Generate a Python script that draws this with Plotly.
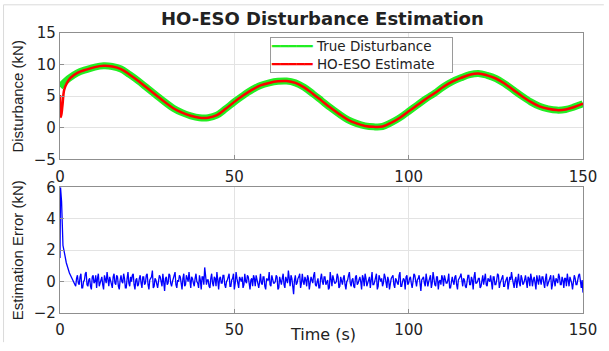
import numpy as np
import plotly.graph_objects as go

# ---------------- data ----------------
# True disturbance, sampled every 2.5 s from t=0 to t=150 (kN)
true_step = 2.5
true_vals = [6.5, 7.8, 8.7, 9.2, 9.6, 9.8, 9.7, 9.3, 8.4, 7.4,
             6.3, 5.2, 4.1, 3.1, 2.4, 1.9, 1.6, 1.6, 2.0, 3.0,
             4.1, 5.1, 6.0, 6.7, 7.1, 7.35, 7.4, 7.1, 6.4, 5.4,
             4.3, 3.2, 2.2, 1.3, 0.7, 0.3, 0.15, 0.2, 0.8, 1.6,
             2.6, 3.6, 4.6, 5.5, 6.5, 7.3, 7.9, 8.4, 8.6, 8.3,
             7.8, 7.0, 6.0, 5.0, 4.1, 3.4, 3.0, 2.8, 2.9, 3.3,
             3.8]

# HO-ESO estimate: initial transient, afterwards it follows the true disturbance
est_start_t = [0.0, 0.3, 0.7, 1.2, 2.0, 3.0]
est_start_v = [5.2, 1.7, 3.5, 6.0, 7.1, 7.9]
est_follow_from = 5.0

# Estimation error: initial transient
err_start_t = [0.0, 0.15, 0.45, 0.65, 0.85, 1.3, 1.8, 2.7, 3.6]
err_start_v = [1.5, 6.0, 5.1, 4.1, 2.3, 1.8, 1.2, 0.55, 0.1]
# Estimation error after convergence (kN): samples at t = 4.5, 5.0, 5.5, ...
err_noise_t0 = 4.5
err_noise_step = 0.5
err_noise = [
    -0.3, 0.4, -0.2, 0.5, -0.4, 0.1, 0.6, -0.3, 0.2, -0.5, 0.4, 0.0, -0.4, 0.5, -0.1, 0.3, -0.5, 0.2, 0.6, -0.3,
    0.1, -0.4, 0.5, -0.2, 0.3, -0.5, 0.4, -0.1, 0.2, -0.4, 0.6, -0.3, 0.0, 0.5, -0.5, 0.2, -0.2, 0.4, -0.4, 0.3,
    -0.1, 0.5, -0.5, 0.2, 0.7, -0.3, 0.1, -0.4, 0.4, -0.2, 0.5, -0.6, 0.3, -0.1, 0.4, -0.3, 0.2, 0.6, -0.4, 0.0,
    0.3, -0.5, 0.5, -0.2, 0.1, 0.6, -0.4, 0.2, -0.3, 0.5, -0.1, 0.4, -0.5, 0.3, 0.9, -0.2, 0.1, -0.4, 0.5, -0.3,
    0.2, 0.6, -0.5, 0.3, -0.1, 0.4, -0.4, 0.1, 0.5, -0.3, 0.2, -0.5, 0.6, -0.2, 0.3, 0.0, -0.4, 0.5, -0.1, 0.3,
    -0.5, 0.2, 0.4, -0.3, 0.1, -0.4, 0.5, -0.2, 0.3, -0.5, 0.1, 0.6, -0.3, 0.2, -0.1, 0.4, -0.5, 0.3, -0.2, 0.5,
    -0.4, 0.1, 0.7, -0.3, 0.2, -0.8, 0.4, -0.1, 0.3, -0.4, 0.5, -0.2, 0.1, 0.4, -0.5, 0.3, -0.1, 0.6, -0.3, 0.2,
    -0.4, 0.5, -0.2, 0.3, 0.0, -0.5, 0.6, -0.3, 0.2, -0.1, 0.5, -0.4, 0.3, -0.2, 0.4, -0.5, 0.1, 0.6, -0.3, 0.2,
    -0.4, 0.4, -0.1, 0.3, -0.5, 0.2, 0.5, -0.3, 0.1, -0.4, 0.6, -0.2, 0.3, -0.5, 0.4, 0.0, -0.3, 0.5, -0.2, 0.3,
    -0.5, 0.2, 0.4, -0.4, 0.1, -0.2, 0.6, -0.3, 0.2, -0.5, 0.4, -0.1, 0.3, -0.4, 0.5, -0.2, 0.1, 0.4, -0.6, 0.2,
    -0.1, 0.5, -0.3, 0.2, -0.4, 0.6, -0.2, 0.3, -0.5, 0.1, 0.4, -0.3, 0.2, -0.1, 0.5, -0.4, 0.3, -0.2, 0.4, -0.5,
    0.2, 0.5, -0.3, 0.1, -0.4, 0.4, -0.2, 0.3, -0.5, 0.6, -0.1, 0.2, -0.4, 0.3, -0.2, 0.5, -0.3, 0.1, 0.4, -0.5,
    0.3, -0.2, 0.5, -0.4, 0.1, 0.4, -0.3, 0.2, -0.5, 0.3, 0.6, -0.2, 0.1, -0.4, 0.5, -0.3, 0.2, -0.1, 0.4, -0.4,
    0.2, 0.5, -0.3, 0.3, -0.5, 0.1, 0.4, -0.2, 0.3, -0.4, 0.5, -0.1, 0.2, -0.5, 0.4, -0.3, 0.1, 0.5, -0.2, 0.3,
    -0.4, 0.2, 0.5, -0.3, 0.1, -0.5, 0.4, -0.2, 0.3, 0.5, -0.4, -0.7,
]
# in-between samples at t = 4.75, 5.25, 5.75, ... (kN)
err_noise_mid = [
    0.2, -0.1, 0.3, -0.4, 0.0, 0.5, -0.2, 0.1, -0.3, 0.3, -0.1, 0.4, 0.2, -0.3, 0.1, -0.2, 0.4, -0.1, 0.0, 0.3,
    -0.2, 0.3, -0.1, 0.4, -0.3, 0.1, 0.0, 0.5, -0.4, 0.2, -0.1, 0.3, 0.4, -0.2, 0.1, -0.3, 0.2, -0.1, 0.3, -0.2,
    0.4, -0.2, 0.1, 0.3, -0.4, 0.2, -0.1, 0.0, 0.3, -0.3, 0.1, 0.2, -0.2, 0.5, -0.1, 0.0, 0.3, -0.2, 0.1, 0.4,
    -0.1, 0.2, -0.3, 0.4, 0.0, -0.2, 0.3, -0.1, 0.2, 0.0, -0.4, 0.1, 0.3, -0.2, 0.4, 0.1, -0.3, 0.2, -0.1, 0.3,
    -0.3, 0.1, 0.2, -0.1, 0.4, -0.2, 0.0, 0.3, -0.3, 0.1, 0.5, -0.1, 0.2, -0.4, 0.1, 0.3, -0.2, 0.0, 0.4, -0.1,
    0.1, -0.3, 0.2, 0.4, -0.2, 0.0, -0.1, 0.3, -0.3, 0.2, 0.1, -0.2, 0.4, -0.1, 0.0, 0.3, -0.4, 0.1, 0.2, -0.2,
    0.3, -0.1, 0.0, 0.4, -0.3, 0.1, -0.2, 0.2, 0.5, -0.1, 0.0, 0.3, -0.3, 0.2, -0.1, 0.1, 0.4, -0.2, 0.0, -0.4,
    0.2, 0.0, 0.3, -0.2, 0.1, -0.4, 0.2, 0.4, -0.1, 0.0, 0.3, -0.3, 0.1, 0.2, -0.2, 0.0, 0.4, -0.1, 0.1, -0.3,
    0.3, -0.2, 0.1, 0.0, 0.4, -0.3, 0.2, -0.1, 0.3, 0.1, -0.2, 0.0, 0.5, -0.3, 0.1, 0.2, -0.1, 0.3, -0.4, 0.1,
    0.0, 0.3, -0.2, 0.2, -0.1, 0.4, -0.3, 0.0, 0.1, 0.3, -0.2, 0.2, -0.1, 0.0, 0.4, -0.3, 0.2, -0.1, 0.1, 0.3,
    -0.3, 0.2, 0.0, 0.4, -0.1, 0.1, -0.3, 0.3, 0.0, -0.2, 0.2, 0.4, -0.1, 0.1, -0.4, 0.2, 0.0, 0.3, -0.2, 0.1,
    0.3, -0.1, 0.2, -0.3, 0.0, 0.4, -0.2, 0.1, 0.3, -0.1, 0.0, 0.2, -0.3, 0.4, 0.1, -0.2, 0.2, 0.0, -0.1, 0.3,
    -0.2, 0.1, 0.4, -0.1, 0.2, -0.3, 0.0, 0.3, -0.2, 0.1, 0.2, -0.4, 0.3, 0.0, -0.1, 0.4, -0.2, 0.1, 0.0, 0.3,
    -0.3, 0.2, 0.1, -0.1, 0.4, -0.2, 0.0, 0.3, -0.1, 0.2, -0.3, 0.1, 0.4, -0.2, 0.0, 0.2, -0.1, 0.3, -0.2, 0.1,
    0.2, -0.3, 0.1, 0.3, -0.1, 0.0, 0.2, -0.2, 0.4, -0.1, 0.1, -0.3,
]

legend_names = ["True Disturbance", "HO-ESO Estimate"]
x_ticks = [0, 50, 100, 150]
top_y_ticks = [-5, 0, 5, 10, 15]
bot_y_ticks = [-2, 0, 2, 4, 6]

# ---------------- build series ----------------
true_t = np.arange(len(true_vals)) * true_step
true_v = np.array(true_vals)
mask = true_t >= est_follow_from
est_t = np.concatenate([est_start_t, true_t[mask]])
est_v = np.concatenate([est_start_v, true_v[mask]])

n = min(len(err_noise), len(err_noise_mid))
base_t = err_noise_t0 + err_noise_step * np.arange(n)
noise_t = np.empty(2 * n)
noise_v = np.empty(2 * n)
noise_t[0::2] = base_t
noise_t[1::2] = base_t + err_noise_step / 2
noise_v[0::2] = err_noise[:n]
noise_v[1::2] = err_noise_mid[:n]
err_t = np.concatenate([err_start_t, noise_t])
err_v = np.concatenate([err_start_v, noise_v])

# ---------------- layout geometry ----------------
W, H = 609, 351
ML, MR, MT, MB = 60, 21, 33, 30
PW, PH = W - ML - MR, H - MT - MB
def px(x):
    return (x - ML) / PW
def py(y):
    return (H - MB - y) / PH

top_dom = [py(163), 1.0]
bot_dom = [0.0, py(191.7)]

TXT = "#222222"
TICKFONT = dict(family="DejaVu Sans", size=15, color=TXT)
GRID = "#e3e3e3"
AX = "#8f8f8f"
GREEN, RED, BLUE = "#22ee22", "#ff0000", "#0000ff"

fig = go.Figure()
fig.add_trace(go.Scatter(x=true_t, y=true_v, mode="lines", name=legend_names[0],
                         line=dict(color=GREEN, width=7, shape="spline"),
                         showlegend=False, xaxis="x", yaxis="y"))
fig.add_trace(go.Scatter(x=est_t, y=est_v, mode="lines", name=legend_names[1],
                         line=dict(color=RED, width=2.5, shape="spline"),
                         showlegend=False, xaxis="x", yaxis="y"))
fig.add_trace(go.Scatter(x=err_t, y=err_v, mode="lines", name="Estimation Error",
                         line=dict(color=BLUE, width=1.3),
                         showlegend=False, xaxis="x2", yaxis="y2"))

axis_common = dict(showline=True, linecolor=AX, linewidth=1.3, mirror=True, showgrid=True, gridcolor=GRID,
                   gridwidth=1, zeroline=False, ticks="inside", ticklen=4, tickcolor=AX, tickfont=TICKFONT)

fig.update_layout(
    width=W, height=H,
    margin=dict(l=ML, r=MR, t=MT, b=MB),
    paper_bgcolor="white", plot_bgcolor="white",
    xaxis=dict(domain=[0, 1], anchor="y", range=[0, 150], tickvals=x_ticks, ticklabelstandoff=3, **axis_common),
    yaxis=dict(domain=top_dom, anchor="x", range=[-5, 15], tickvals=top_y_ticks, **axis_common),
    xaxis2=dict(domain=[0, 1], anchor="y2", range=[0, 150], tickvals=x_ticks, ticklabelstandoff=3, **axis_common),
    yaxis2=dict(domain=bot_dom, anchor="x2", range=[-2, 6], tickvals=bot_y_ticks, **axis_common),
    showlegend=False,
)

# legend box (text with coloured line glyphs)
sample = "\u2501" * 5
legend_text = "<br>".join(
    f'<span style="color:{c}">{sample}</span> {nm}&nbsp;&nbsp;&nbsp;&nbsp;' for c, nm in zip([GREEN, RED], legend_names)
)
fig.add_annotation(text=legend_text, xref="paper", yref="paper", x=px(272), y=py(37),
                   xanchor="left", yanchor="top", align="left", showarrow=False,
                   bgcolor="white", bordercolor="#9a9a9a", borderwidth=1, borderpad=0,
                   font=dict(family="DejaVu Sans", size=13.5, color=TXT))

fig.add_annotation(text="<b>HO-ESO Disturbance Estimation</b>", xref="paper", yref="paper",
                   x=px(325), y=py(18), xanchor="center", yanchor="middle", showarrow=False,
                   font=dict(family="DejaVu Sans", size=18, color=TXT))
fig.add_annotation(text="Disturbance (kN)", xref="paper", yref="paper", x=px(17), y=py(98),
                   textangle=-90, xanchor="center", yanchor="middle", showarrow=False,
                   font=dict(family="Liberation Sans", size=15, color=TXT))
fig.add_annotation(text="Estimation Error (kN)", xref="paper", yref="paper", x=px(17), y=py(256),
                   textangle=-90, xanchor="center", yanchor="middle", showarrow=False,
                   font=dict(family="Liberation Sans", size=15, color=TXT))
fig.add_annotation(text="Time (s)", xref="paper", yref="paper", x=px(326), y=py(343),
                   xanchor="center", yanchor="middle", showarrow=False,
                   font=dict(family="DejaVu Sans", size=16, color=TXT))

# light outer frame of the figure
fig.add_shape(type="line", xref="paper", yref="paper", x0=px(3), x1=px(609), y0=py(4), y1=py(4),
              line=dict(color="#dadada", width=1))
fig.add_shape(type="line", xref="paper", yref="paper", x0=px(3), x1=px(3), y0=py(4), y1=py(351),
              line=dict(color="#dadada", width=1))

fig.write_html("out.html")
